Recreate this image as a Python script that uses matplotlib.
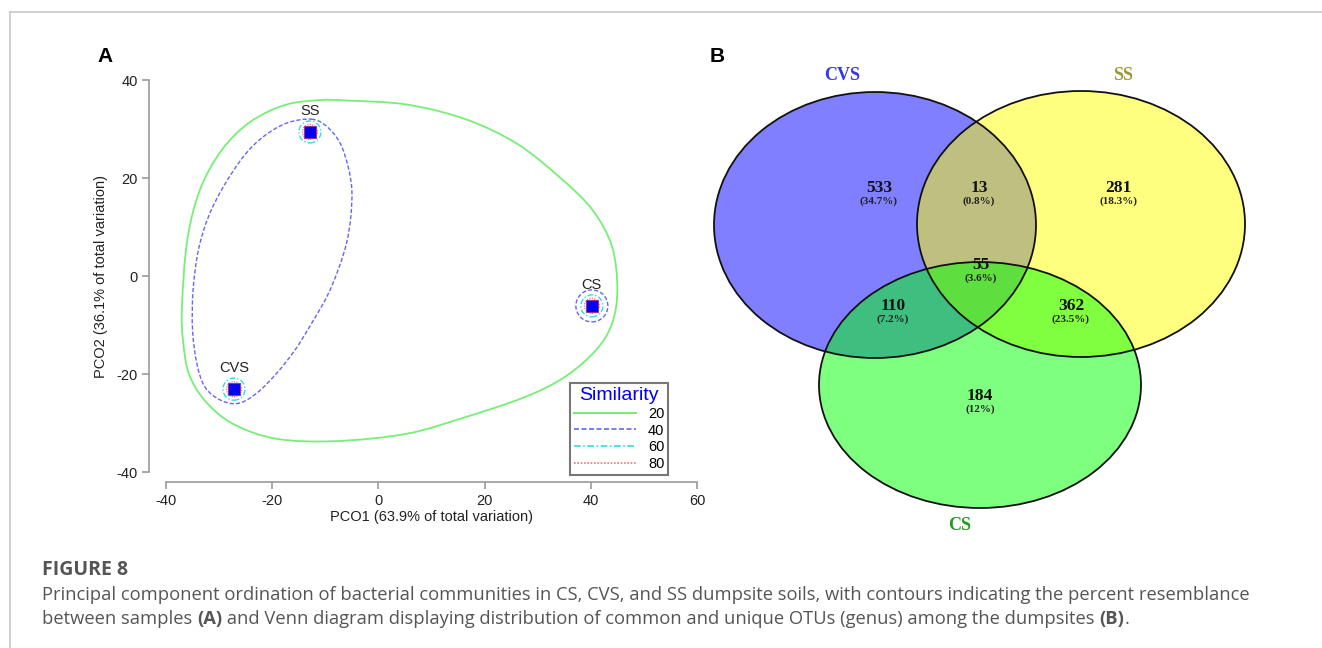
import numpy as np
import matplotlib
matplotlib.use("Agg")
import matplotlib.pyplot as plt
from matplotlib.path import Path
from matplotlib.patches import PathPatch, Ellipse
from matplotlib.lines import Line2D

plt.rcParams["font.family"] = "Liberation Sans"
plt.rcParams["axes.unicode_minus"] = False

# ---- data: PCO ordination (panel A) ----
samples = ["SS", "CVS", "CS"]
pco1 = [-12.9, -27.2, 40.2]
pco2 = [29.4, -23.1, -6.1]

# 20% similarity contour
c20_x = [-5.9, 5.3, 16.4, 26.1, 34.3, 40.3, 44.0, 45.0, 44.0, 41.0, 35.1, 27.6, 16.4, 5.3,
         -8.1, -19.3, -27.5, -32.7, -35.7, -36.8, -37.0, -36.0, -33.6, -29.5, -24.2, -17.6,
         -11.0]
c20_y = [35.8, 35.0, 32.0, 27.0, 20.0, 13.5, 6.0, -2.8, -9.7, -15.1, -20.6, -24.7, -28.8,
         -32.2, -33.7, -33.2, -30.1, -25.4, -19.9, -13.1, -6.3, 7.3, 17.6, 25.7, 31.4, 34.9,
         35.9]
# 40% similarity contour around SS and CVS
c40_x = [-12.6, -9.7, -7.2, -5.7, -5.0, -5.2, -6.0, -7.6, -9.7, -12.6, -15.7, -19.2, -22.9,
         -26.4, -29.8, -32.7, -34.2, -35.0, -34.9, -33.9, -32.0, -29.2, -25.4, -21.7, -17.3]
c40_y = [32.0, 30.5, 27.1, 22.3, 17.6, 12.1, 6.7, 1.2, -4.2, -9.7, -15.1, -19.9, -23.9,
         -26.0, -25.3, -22.6, -17.8, -11.0, -2.9, 5.3, 12.1, 18.2, 24.4, 28.4, 31.2]

sim_levels = ["20", "40", "60", "80"]
sim_colors = ["#77ee77", "#6666ee", "#33dddd", "#ee7777"]

# ---- data: Venn (panel B) ----
venn_sets = ["CVS", "SS", "CS"]
venn_counts = [533, 13, 281, 55, 110, 362, 184]
venn_pcts = ["34.7%", "0.8%", "18.3%", "3.6%", "7.2%", "23.5%", "12%"]

W, H = 1322, 648
fig = plt.figure(figsize=(W / 100, H / 100), dpi=100)

# overlay in pixel coordinates for frame, Venn and caption
ov = fig.add_axes([0, 0, 1, 1])
ov.set_xlim(0, W)
ov.set_ylim(H, 0)
ov.axis("off")
ov.plot([10, W], [12, 12], color="#c8c8c8", lw=1.2)
ov.plot([10, 10], [12, H], color="#c8c8c8", lw=1.2)


def smooth_closed(xs, ys):
    pts = np.column_stack([xs, ys])
    n = len(pts)
    verts = [pts[0]]
    codes = [Path.MOVETO]
    for i in range(n):
        p0, p1, p2, p3 = pts[i - 1], pts[i], pts[(i + 1) % n], pts[(i + 2) % n]
        verts += [p1 + (p2 - p0) / 6, p2 - (p3 - p1) / 6, p2]
        codes += [Path.CURVE4] * 3
    return Path(verts, codes)


# ---- panel A ----
ax = fig.add_axes([166 / W, 1 - 472 / H, 531 / W, 392 / H])
ax.set_xlim(-40, 60)
ax.set_ylim(-40, 40)
for s in ["top", "right"]:
    ax.spines[s].set_visible(False)
ax.spines["left"].set_position(("outward", 12))
ax.spines["bottom"].set_position(("outward", 7))
ax.spines["left"].set_bounds(-40, 40)
ax.spines["bottom"].set_bounds(-40, 60)
for s in ["left", "bottom"]:
    ax.spines[s].set_color("#999999")
    ax.spines[s].set_linewidth(1.2)
ax.set_xticks([-40, -20, 0, 20, 40, 60])
ax.set_yticks([-40, -20, 0, 20, 40])
ax.tick_params(colors="#999999", labelcolor="#222222", labelsize=10.5, length=5, width=1.2)
ax.set_xlabel("PCO1 (63.9% of total variation)", fontsize=10.5, color="#222222", labelpad=2)
ax.set_ylabel("PCO2 (36.1% of total variation)", fontsize=10.5, color="#222222", labelpad=6)

ax.add_patch(PathPatch(smooth_closed(c20_x, c20_y), fill=False, ec=sim_colors[0], lw=1.3))
ax.add_patch(PathPatch(smooth_closed(c40_x, c40_y), fill=False, ec=sim_colors[1], lw=1.0,
                       ls=(0, (3, 1.5))))
# small circles around each sample (radius in pixels -> data units)
px_x, px_y = 5.31, 4.9
for i, (x, y) in enumerate(zip(pco1, pco2)):
    if samples[i] == "CS":
        ax.add_patch(Ellipse((x, y), 2 * 16 / px_x, 2 * 16 / px_y, fill=False,
                             ec=sim_colors[1], lw=1.0, ls=(0, (3, 1.5))))
    ax.add_patch(Ellipse((x, y), 2 * 11 / px_x, 2 * 11 / px_y, fill=False,
                         ec=sim_colors[2], lw=1.0, ls=(0, (4, 1.5, 1, 1.5))))
    ax.add_patch(Ellipse((x, y), 2 * 7.5 / px_x, 2 * 7.5 / px_y, fill=False,
                         ec=sim_colors[3], lw=0.9, ls=(0, (1, 1))))
ax.plot(pco1, pco2, "s", color="#0000ee", mec="#993399", mew=0.8, ms=9, ls="none", zorder=5)
for name, x, y in zip(samples, pco1, pco2):
    ax.annotate(name, (x, y), xytext=(0, 10), textcoords="offset points", ha="center",
                va="bottom", fontsize=10.5, color="#222222")

handles = [Line2D([], [], color=sim_colors[0], lw=1.5),
           Line2D([], [], color=sim_colors[1], lw=1.2, ls=(0, (3, 1.5))),
           Line2D([], [], color=sim_colors[2], lw=1.2, ls=(0, (4, 1.5, 1, 1.5))),
           Line2D([], [], color=sim_colors[3], lw=1.2, ls=(0, (1, 1)))]
leg = ax.legend(handles, sim_levels, title="Similarity", loc="lower right",
                bbox_to_anchor=(668 / W, 1 - 475 / H), bbox_transform=fig.transFigure,
                borderaxespad=0, fancybox=False, framealpha=1, edgecolor="#777777",
                prop={"size": 10.5}, title_fontproperties={"size": 14},
                handlelength=4.3, handletextpad=0.8, labelspacing=0.2,
                borderpad=0.25)
leg.get_title().set_color("#0000ee")
leg.get_frame().set_linewidth(1.5)
leg.set_zorder(10)

# ---- panel B (Venn) ----
circles = [((875, 225), 322, 266, (0, 0, 1)),
           ((1081, 224), 328, 266, (1, 1, 0)),
           ((980, 385), 322, 246, (0, 1, 0))]
for (c, w, h, col) in circles:
    ov.add_patch(Ellipse(c, w, h, fc=col, alpha=0.5, ec="none"))
for (c, w, h, col) in circles:
    ov.add_patch(Ellipse(c, w, h, fill=False, ec="#111111", lw=1.3))

serif = "Liberation Serif"
ov.text(842, 76, venn_sets[0], color="#3535f0", fontsize=13, weight="bold", family=serif,
        ha="center", va="center")
ov.text(1123, 76, venn_sets[1], color="#999933", fontsize=13, weight="bold", family=serif,
        ha="center", va="center")
ov.text(960, 525, venn_sets[2], color="#229922", fontsize=13, weight="bold", family=serif,
        ha="center", va="center")
region_xy = [(879, 188), (979, 188), (1118, 188), (981, 265), (893, 306), (1071, 306), (980, 396)]
for (x, y), n, p in zip(region_xy, venn_counts, venn_pcts):
    ov.text(x, y, str(n), fontsize=12.5, weight="bold", family=serif, ha="center", va="center",
            color="#111111")
    ov.text(x, y + 13, "(" + p + ")", fontsize=8, weight="bold", family=serif, ha="center",
            va="center", color="#222222")

ov.text(105, 57, "A", fontsize=15, weight="bold", ha="center", va="center")
ov.text(717, 57, "B", fontsize=15, weight="bold", ha="center", va="center")

# ---- caption ----
cap_font = "Open Sans"
cap_col = "#555555"
ov.text(42, 570, "FIGURE 8", fontsize=14, weight="bold", family=cap_font, color=cap_col,
        va="center")

fig.canvas.draw()
r = fig.canvas.get_renderer()


def rich_line(x, y, parts):
    for txt, bold in parts:
        t = ov.text(x, y, txt, fontsize=13.2, family=cap_font, color=cap_col, va="center",
                    weight="bold" if bold else "normal")
        bb = t.get_window_extent(renderer=r)
        x += bb.width


rich_line(42, 595, [("Principal component ordination of bacterial communities in CS, CVS, and SS "
                     "dumpsite soils, with contours indicating the percent resemblance", False)])
rich_line(42, 619, [("between samples ", False), ("(A)", True),
                    (" and Venn diagram displaying distribution of common and unique OTUs "
                     "(genus) among the dumpsites ", False), ("(B)", True), (".", False)])

fig.savefig("out.png", dpi=100)
